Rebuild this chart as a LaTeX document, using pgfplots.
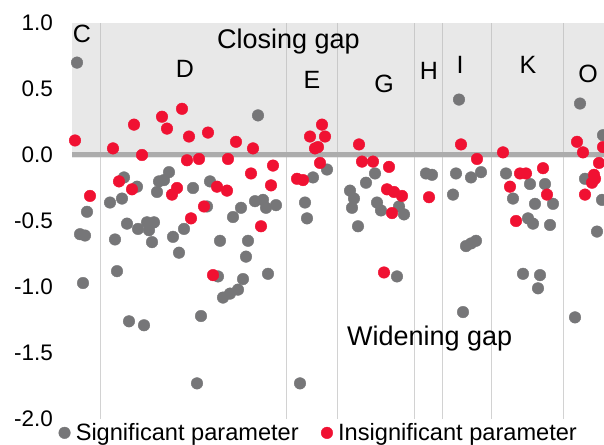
\documentclass[border=0pt]{standalone}
\usepackage{pgfplots}
\pgfplotsset{compat=1.18}
\usepackage{fontspec}
\setmainfont{Liberation Sans}

\definecolor{sig}{RGB}{118,118,120}
\definecolor{insig}{RGB}{240,17,50}
\definecolor{shade}{RGB}{183,183,183}
\definecolor{zeroline}{RGB}{168,168,168}
\definecolor{sepline}{RGB}{210,210,210}

\begin{document}
\begin{tikzpicture}
\useasboundingbox (0,0) rectangle (604bp,445bp);
\begin{axis}[
  at={(72bp,26bp)}, anchor=south west,
  scale only axis, width=532bp, height=396bp,
  xmin=72, xmax=604, ymin=-2, ymax=1,
  clip=false,
  axis line style={draw=none},
  tick style={draw=none},
  major tick length=0pt,
  xtick={100,286,337,414,442,491,563},
  xticklabels={},
  xmajorgrids,
  grid style={sepline, line width=1bp},
  ytick={-2,-1.5,-1,-0.5,0,0.5,1},
  yticklabel style={font=\fontsize{22.5bp}{27bp}\selectfont, inner sep=0pt, xshift=-19bp,
    /pgf/number format/fixed, /pgf/number format/fixed zerofill,
    /pgf/number format/precision=1, /pgf/number format/assume math mode=true},
  legend columns=2,
  legend style={draw=none, fill=none, inner sep=0pt,
    font=\fontsize{23.6bp}{28bp}\selectfont,
    at={(-0.026,-0.035)}, anchor=west,
    nodes={inner sep=2bp},
    /tikz/every even column/.append style={column sep=20bp}},
  legend image code/.code={\path (0bp,0bp) (15bp,0bp); \draw[#1] plot coordinates {(6bp,0bp)};},
]

% zero reference line
\addplot[zeroline, line width=5bp, forget plot] coordinates {(72,0) (604,0)};

% significant parameters
\addplot[only marks, mark=*, mark size=5.8bp, color=sig] coordinates {
 (77,0.70) (80,-0.60) (85,-0.61) (87,-0.43) (83,-0.97)
 (110,-0.36) (122,-0.33) (124,-0.17) (137,-0.24) (157,-0.28) (159,-0.20) (164,-0.19)
 (169,-0.13) (193,-0.25) (210,-0.20) (207,-0.39) (241,-0.40) (255,-0.35) (263,-0.34)
 (266,-0.40) (276,-0.38) (233,-0.47) (127,-0.52) (115,-0.64) (138,-0.56) (147,-0.51)
 (154,-0.51) (149,-0.57) (152,-0.66) (117,-0.88) (129,-1.26) (144,-1.29) (173,-0.62)
 (184,-0.56) (179,-0.74) (201,-1.22) (197,-1.73) (220,-0.65) (218,-0.92) (248,-0.65)
 (246,-0.77) (243,-0.94) (223,-1.08) (230,-1.05) (238,-1.02) (268,-0.90) (258,0.30)
 (313,-0.17) (305,-0.36) (307,-0.48) (300,-1.73) (327,-0.11)
 (375,-0.14) (366,-0.21) (350,-0.27) (354,-0.33) (352,-0.40) (377,-0.36) (381,-0.42)
 (399,-0.39) (404,-0.45) (358,-0.54) (397,-0.92)
 (426,-0.14) (432,-0.15)
 (459,0.42) (456,-0.14) (453,-0.30) (471,-0.17) (481,-0.13) (466,-0.69) (471,-0.67)
 (476,-0.65) (463,-1.19)
 (506,-0.14) (530,-0.22) (545,-0.22) (513,-0.33) (535,-0.37) (553,-0.37) (528,-0.48)
 (533,-0.52) (550,-0.53) (523,-0.90) (540,-0.91) (538,-1.01)
 (580,0.39) (603,0.15) (585,-0.18) (602,-0.34) (597,-0.58) (575,-1.23)
};
\addlegendentry{Significant parameter}

% insignificant parameters
\addplot[only marks, mark=*, mark size=5.8bp, color=insig] coordinates {
 (75,0.11) (90,-0.31)
 (113,0.05) (134,0.23) (142,0.00) (162,0.29) (167,0.20) (182,0.35) (189,0.14) (208,0.17)
 (236,0.10) (253,0.05) (187,-0.04) (199,-0.03) (228,-0.03) (251,-0.14) (273,-0.08)
 (271,-0.23) (119,-0.20) (132,-0.26) (172,-0.30) (177,-0.25) (217,-0.24) (227,-0.27)
 (204,-0.39) (191,-0.48) (261,-0.54) (213,-0.91)
 (297,-0.18) (303,-0.19) (310,0.14) (322,0.23) (325,0.14) (315,0.05) (318,0.06) (320,-0.06)
 (359,0.08) (362,-0.05) (373,-0.05) (389,-0.09) (387,-0.26) (394,-0.28) (402,-0.31)
 (392,-0.44) (384,-0.89)
 (429,-0.32)
 (461,0.08) (477,-0.03)
 (503,0.02) (520,-0.14) (526,-0.14) (543,-0.10) (510,-0.24) (547,-0.30) (516,-0.50)
 (577,0.10) (583,0.02) (603,0.06) (599,-0.06) (594,-0.15) (595,-0.18) (592,-0.21) (585,-0.30)
};
\addlegendentry{Insignificant parameter}

% translucent band marking the closing-gap half
\addplot[draw=none, fill=shade, fill opacity=0.32, forget plot]
  coordinates {(72,-0.02) (604,-0.02) (604,1) (72,1)};

\node[anchor=base west, inner sep=0pt, font=\fontsize{27bp}{32bp}\selectfont]
  at (axis cs:217,0.81) {Closing gap};
\node[anchor=base west, inner sep=0pt, font=\fontsize{27bp}{32bp}\selectfont]
  at (axis cs:347,-1.44) {Widening gap};

\begin{scope}[every node/.style={anchor=base, inner sep=0pt, font=\fontsize{25bp}{30bp}\selectfont}]
\node at (axis cs:82,0.856) {C};
\node at (axis cs:185,0.59) {D};
\node at (axis cs:312,0.50) {E};
\node at (axis cs:384,0.47) {G};
\node at (axis cs:429,0.57) {H};
\node at (axis cs:460,0.62) {I};
\node at (axis cs:528,0.62) {K};
\node at (axis cs:588,0.55) {O};
\end{scope}
\end{axis}
\end{tikzpicture}
\end{document}
